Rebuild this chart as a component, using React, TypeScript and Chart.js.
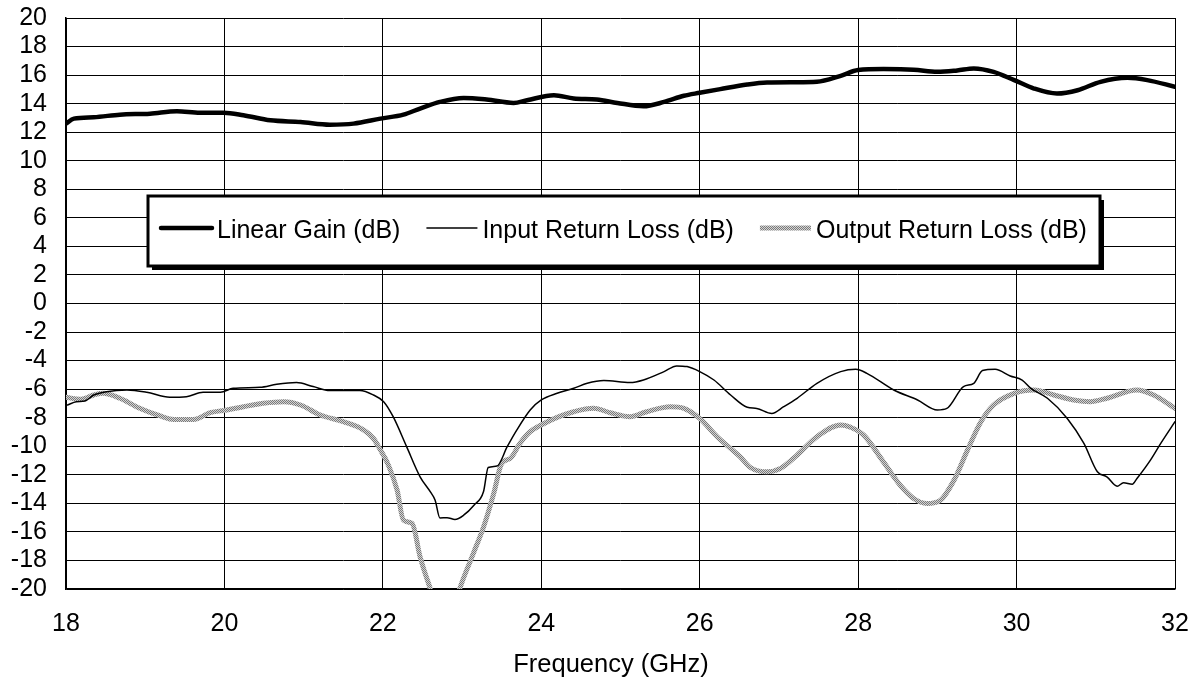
import { useEffect, useRef } from "react";
import { Chart, registerables } from "chart.js";

Chart.register(...registerables);

const seriesLabels = ["Linear Gain (dB)", "Input Return Loss (dB)", "Output Return Loss (dB)"];
const xTitle = "Frequency (GHz)";
const xMin = 18;
const xMax = 32;
const xStep = 2;
const yMin = -20;
const yMax = 20;
const yStep = 2;

const gainFreq = [18.0, 18.1, 18.35, 18.68, 19.06, 19.4, 19.69, 19.99, 20.24, 20.58, 20.96, 21.33, 21.63, 21.97, 22.26, 22.47, 22.72, 23.02, 23.31, 23.65, 23.82, 24.16, 24.41, 24.7, 24.96, 25.29, 25.55, 25.8, 26.0, 26.26, 26.6, 26.85, 27.2, 27.48, 27.78, 28.0, 28.32, 28.7, 29.0, 29.25, 29.46, 29.71, 29.97, 30.22, 30.51, 30.77, 31.06, 31.4, 31.65, 32.0];
const gainDb = [12.6, 12.95, 13.05, 13.23, 13.3, 13.47, 13.37, 13.37, 13.19, 12.83, 12.72, 12.53, 12.6, 12.95, 13.23, 13.66, 14.12, 14.4, 14.29, 14.05, 14.24, 14.59, 14.36, 14.29, 14.05, 13.82, 14.12, 14.55, 14.76, 15.02, 15.34, 15.48, 15.5, 15.53, 15.95, 16.35, 16.42, 16.38, 16.23, 16.33, 16.47, 16.23, 15.65, 15.06, 14.71, 14.94, 15.53, 15.81, 15.65, 15.18];

const inputFreq = [18.02, 18.13, 18.24, 18.35, 18.51, 18.77, 19.02, 19.31, 19.52, 19.73, 19.95, 20.11, 20.45, 20.66, 20.91, 21.12, 21.33, 21.71, 21.88, 22.01, 22.13, 22.3, 22.47, 22.6, 22.66, 22.72, 22.81, 22.91, 23.02, 23.15, 23.27, 23.33, 23.44, 23.57, 23.69, 23.86, 24.0, 24.2, 24.41, 24.58, 24.79, 25.12, 25.29, 25.55, 25.71, 25.84, 26.0, 26.18, 26.39, 26.6, 26.72, 26.91, 27.06, 27.23, 27.48, 27.78, 27.97, 28.11, 28.45, 28.75, 29.0, 29.12, 29.33, 29.46, 29.57, 29.73, 29.92, 30.07, 30.18, 30.39, 30.64, 30.85, 31.02, 31.14, 31.27, 31.35, 31.46, 31.52, 31.69, 31.82, 32.0];
const inputDb = [-7.11, -6.88, -6.83, -6.41, -6.18, -6.06, -6.22, -6.57, -6.53, -6.22, -6.22, -5.94, -5.87, -5.66, -5.54, -5.82, -6.1, -6.1, -6.41, -6.88, -7.93, -10.03, -12.14, -13.2, -13.78, -15.02, -15.0, -15.13, -14.83, -14.13, -13.19, -11.49, -11.39, -10.03, -8.87, -7.46, -6.76, -6.29, -5.94, -5.59, -5.4, -5.54, -5.36, -4.77, -4.37, -4.42, -4.77, -5.36, -6.41, -7.27, -7.35, -7.7, -7.23, -6.64, -5.59, -4.77, -4.61, -4.89, -6.06, -6.76, -7.46, -7.35, -5.82, -5.59, -4.7, -4.61, -5.08, -5.36, -5.94, -6.64, -8.05, -9.8, -11.79, -12.14, -12.8, -12.56, -12.66, -12.26, -10.97, -9.8, -8.28];

const outputFreq = [18.0, 18.18, 18.35, 18.47, 18.68, 18.93, 19.19, 19.36, 19.61, 19.82, 20.03, 20.24, 20.49, 20.75, 20.96, 21.21, 21.5, 21.76, 21.88, 21.97, 22.07, 22.18, 22.26, 22.37, 22.47, 22.6, 22.7, 22.8, 22.9, 22.97, 23.14, 23.27, 23.4, 23.5, 23.61, 23.73, 23.86, 24.0, 24.2, 24.41, 24.66, 24.87, 25.12, 25.33, 25.63, 25.8, 26.0, 26.22, 26.51, 26.64, 26.85, 27.02, 27.23, 27.48, 27.78, 27.9, 28.07, 28.32, 28.53, 28.7, 28.87, 29.04, 29.21, 29.38, 29.55, 29.71, 29.97, 30.22, 30.47, 30.72, 30.93, 31.14, 31.52, 31.73, 32.0];
const outputDb = [-6.57, -6.71, -6.41, -6.29, -6.64, -7.34, -7.88, -8.12, -8.12, -7.65, -7.46, -7.23, -6.99, -6.88, -7.11, -7.81, -8.28, -8.87, -9.45, -10.27, -11.32, -13.08, -15.18, -15.41, -17.75, -20.0, -21.6, -22.3, -21.4, -20.0, -17.54, -15.67, -13.3, -11.2, -10.85, -9.8, -8.98, -8.51, -7.98, -7.58, -7.34, -7.65, -7.93, -7.58, -7.23, -7.34, -8.05, -9.33, -10.74, -11.49, -11.79, -11.55, -10.62, -9.33, -8.51, -8.66, -9.22, -11.1, -12.73, -13.66, -14.01, -13.78, -12.38, -10.27, -8.28, -7.11, -6.29, -6.06, -6.41, -6.76, -6.88, -6.64, -6.06, -6.41, -7.34];

const FONT = "'Liberation Sans', Arial, sans-serif";
const FONT_SIZE = 25;

function toPoints(xs: number[], ys: number[]) {
  return xs.map((x, i) => ({ x, y: ys[i] }));
}

function makePattern(ctx: CanvasRenderingContext2D): CanvasPattern | string {
  const c = document.createElement("canvas");
  c.width = 2;
  c.height = 2;
  const p = c.getContext("2d");
  if (!p) return "#aaaaaa";
  p.fillStyle = "#d4d4d4";
  p.fillRect(0, 0, 2, 2);
  p.fillStyle = "#7a7a7a";
  p.fillRect(0, 0, 1, 1);
  p.fillRect(1, 1, 1, 1);
  return ctx.createPattern(c, "repeat") || "#aaaaaa";
}

export default function App() {
  const canvasRef = useRef<HTMLCanvasElement | null>(null);

  useEffect(() => {
    const canvas = canvasRef.current;
    if (!canvas) return;
    const ctx = canvas.getContext("2d");
    if (!ctx) return;
    const pattern = makePattern(ctx);

    const styles = [
      { color: "#000000", width: 4.5 },
      { color: "#000000", width: 1.5 },
      { color: pattern, width: 5 },
    ];

    const boxLegend = {
      id: "boxLegend",
      afterDraw(chart: any) {
        const c = chart.ctx as CanvasRenderingContext2D;
        const left = 148;
        const top = 196;
        const right = 1100;
        const bottom = 266;
        c.save();
        c.fillStyle = "#000";
        c.fillRect(left + 4, top + 4, right - left, bottom - top);
        c.fillStyle = "#fff";
        c.fillRect(left, top, right - left, bottom - top);
        c.lineWidth = 3;
        c.strokeStyle = "#000";
        c.strokeRect(left, top, right - left, bottom - top);
        c.font = `${FONT_SIZE}px ${FONT}`;
        c.textBaseline = "alphabetic";
        c.textAlign = "left";
        let x = 161;
        const lineY = 228;
        const textY = 238;
        chart.data.datasets.forEach((ds: any, i: number) => {
          c.beginPath();
          c.strokeStyle = styles[i].color as any;
          c.lineWidth = styles[i].width;
          c.lineCap = i === 0 ? "round" : "butt";
          c.moveTo(x, lineY);
          c.lineTo(x + 51, lineY);
          c.stroke();
          x += 56;
          c.fillStyle = "#000";
          c.fillText(ds.label, x, textY);
          x += c.measureText(ds.label).width + 26;
        });
        // x-axis title
        c.font = `${FONT_SIZE + 0.5}px ${FONT}`;
        c.textAlign = "center";
        c.textBaseline = "alphabetic";
        c.fillText(xTitle, 611, 672);
        c.restore();
      },
    };

    const chart = new Chart(canvas, {
      type: "line",
      data: {
        datasets: [
          { label: seriesLabels[0], data: toPoints(gainFreq, gainDb) },
          { label: seriesLabels[1], data: toPoints(inputFreq, inputDb) },
          { label: seriesLabels[2], data: toPoints(outputFreq, outputDb) },
        ].map((d, i) => ({
          ...d,
          borderColor: styles[i].color as any,
          borderWidth: styles[i].width,
          pointRadius: 0,
          fill: false,
          cubicInterpolationMode: "monotone" as const,
          borderJoinStyle: "round" as const,
          borderCapStyle: "round" as const,
        })),
      },
      options: {
        responsive: false,
        animation: false,
        layout: { padding: { top: 18, right: 23, left: 0, bottom: 0 } },
        plugins: {
          legend: { display: false },
          tooltip: { enabled: false },
        },
        scales: {
          x: {
            type: "linear",
            min: xMin,
            max: xMax,
            ticks: {
              stepSize: xStep,
              color: "#000",
              font: { family: FONT, size: FONT_SIZE },
              padding: 20,
              maxRotation: 0,
              autoSkip: false,
            },
            grid: { color: "#000", lineWidth: 1, drawTicks: false },
            border: { color: "#000", width: 1.5 },
            title: { display: false },
            afterFit: (s: any) => {
              s.height = 93;
              s.paddingLeft = 0;
              s.paddingRight = 0;
            },
          },
          y: {
            type: "linear",
            min: yMin,
            max: yMax,
            ticks: {
              stepSize: yStep,
              color: "#000",
              font: { family: FONT, size: FONT_SIZE },
              padding: 19,
              autoSkip: false,
            },
            grid: { color: "#000", lineWidth: 1, drawTicks: false },
            border: { color: "#000", width: 1.5 },
            afterFit: (s: any) => {
              s.width = 66;
              s.paddingTop = 0;
              s.paddingBottom = 0;
            },
          },
        },
      },
      plugins: [boxLegend],
    });

    return () => chart.destroy();
  }, []);

  return (
    <div style={{ position: "fixed", left: 0, top: 0, width: 1198, height: 682, background: "#fff" }}>
      <canvas ref={canvasRef} width={1198} height={682} style={{ display: "block", width: 1198, height: 682 }} />
    </div>
  );
}
